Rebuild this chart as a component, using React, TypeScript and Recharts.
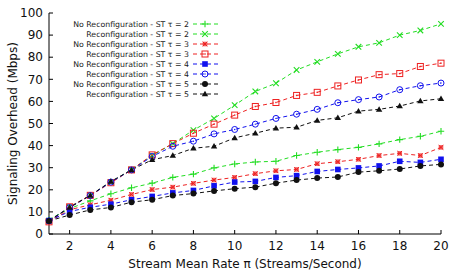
import { LineChart, Line, XAxis, YAxis, Legend } from 'recharts';

// stream mean rate (streams/second)
const rates = [1, 2, 3, 4, 5, 6, 7, 8, 9, 10, 11, 12, 13, 14, 15, 16, 17, 18, 19, 20];

// signaling overhead (Mbps)
const noReconfT2 = [6.5, 11.5, 15, 18.2, 20.9, 23, 25.6, 27.1, 29.9, 31.7, 32.6, 32.9, 35.5, 37, 38.2, 39.2, 40.8, 42.7, 44.2, 46.5];
const reconfT2 = [6, 12.2, 17.5, 23.5, 29.2, 35.5, 40.9, 47, 52.3, 58.3, 64.5, 68.2, 74.2, 77.9, 81.5, 84.7, 86.5, 90, 92.1, 95.1];
const noReconfT3 = [5.5, 11, 13.2, 15.3, 17.9, 20.1, 21.2, 22.9, 24.4, 25.6, 27.3, 28.6, 29.2, 31.8, 32.7, 33.8, 35.5, 36.5, 35.5, 39.2];
const reconfT3 = [5.5, 12.3, 17.5, 23.2, 29, 35.8, 40.9, 45.6, 49.7, 53.8, 57.7, 59.5, 62.7, 64.1, 67, 69.7, 72.1, 72.6, 75.8, 77.3];
const noReconfT4 = [6, 10.2, 12.1, 13.5, 15.5, 17, 18.6, 19.7, 21.8, 23.5, 23.8, 25.6, 26.4, 28.3, 29.2, 29.9, 30.8, 32.9, 32.4, 33.8];
const reconfT4 = [6, 12, 17.4, 23.5, 29, 35.1, 39.7, 42, 45.3, 47.3, 49.7, 52.3, 54.2, 56.4, 59.4, 60.8, 62, 65.3, 67.1, 68.3];
const noReconfT5 = [5.9, 8.6, 10.9, 12, 14.4, 15.5, 17.4, 18.3, 19.5, 20.5, 21.2, 23, 24.4, 25.3, 25.8, 28, 28.6, 29.4, 30.8, 31.5];
const reconfT5 = [6, 12, 17.5, 23.8, 29, 33.6, 35.5, 38.8, 39.7, 43.5, 45.6, 47.9, 48.3, 51.4, 52.6, 55.6, 56.4, 57.9, 60.2, 61.2];

const xTicks = [2, 4, 6, 8, 10, 12, 14, 16, 18, 20];
const yTicks = [0, 10, 20, 30, 40, 50, 60, 70, 80, 90, 100];

const GREEN = '#22dd22';
const RED = '#ee2222';
const BLUE = '#1111ee';
const BLACK = '#111111';

type Shape = 'plus' | 'cross' | 'star' | 'openSquare' | 'square' | 'openCircle' | 'circle' | 'triangle';

const series: { key: string; name: string; color: string; shape: Shape; values: number[] }[] = [
	{ key: 'nr2', name: 'No Reconfiguration - ST τ = 2', color: GREEN, shape: 'plus', values: noReconfT2 },
	{ key: 'r2', name: 'Reconfiguration - ST τ = 2', color: GREEN, shape: 'cross', values: reconfT2 },
	{ key: 'nr3', name: 'No Reconfiguration - ST τ = 3', color: RED, shape: 'star', values: noReconfT3 },
	{ key: 'r3', name: 'Reconfiguration - ST τ = 3', color: RED, shape: 'openSquare', values: reconfT3 },
	{ key: 'nr4', name: 'No Reconfiguration - ST τ = 4', color: BLUE, shape: 'square', values: noReconfT4 },
	{ key: 'r4', name: 'Reconfiguration - ST τ = 4', color: BLUE, shape: 'openCircle', values: reconfT4 },
	{ key: 'nr5', name: 'No Reconfiguration - ST τ = 5', color: BLACK, shape: 'circle', values: noReconfT5 },
	{ key: 'r5', name: 'Reconfiguration - ST τ = 5', color: BLACK, shape: 'triangle', values: reconfT5 },
];

const data = rates.map((n, i) => {
	const row: Record<string, number> = { n };
	series.forEach((s) => { row[s.key] = s.values[i]; });
	return row;
});

function Marker({ shape, color, cx, cy }: { shape: Shape; color: string; cx?: number; cy?: number }) {
	if (cx == null || cy == null) return null;
	switch (shape) {
		case 'plus':
			return <path d={`M${cx - 3.2},${cy}H${cx + 3.2}M${cx},${cy - 3.2}V${cy + 3.2}`} stroke={color} strokeWidth={1.1} fill="none" />;
		case 'cross':
			return <path d={`M${cx - 2.8},${cy - 2.8}L${cx + 2.8},${cy + 2.8}M${cx - 2.8},${cy + 2.8}L${cx + 2.8},${cy - 2.8}`} stroke={color} strokeWidth={1.1} fill="none" />;
		case 'star':
			return (
				<g>
					<rect x={cx - 2.3} y={cy - 2.3} width={4.6} height={4.6} fill={color} opacity={0.7} />
					<path d={`M${cx - 2.3},${cy - 2.3}L${cx + 2.3},${cy + 2.3}M${cx - 2.3},${cy + 2.3}L${cx + 2.3},${cy - 2.3}`} stroke={color} strokeWidth={1} />
				</g>
			);
		case 'openSquare':
			return (
				<g>
					<rect x={cx - 3} y={cy - 3} width={6} height={6} fill="none" stroke={color} strokeWidth={1} />
					<rect x={cx - 0.7} y={cy - 0.7} width={1.4} height={1.4} fill={color} />
				</g>
			);
		case 'square':
			return <rect x={cx - 2.8} y={cy - 2.8} width={5.6} height={5.6} fill={color} />;
		case 'openCircle':
			return (
				<g>
					<circle cx={cx} cy={cy} r={3} fill="none" stroke={color} strokeWidth={1} />
					<circle cx={cx} cy={cy} r={0.7} fill={color} />
				</g>
			);
		case 'circle':
			return <circle cx={cx} cy={cy} r={3} fill={color} />;
		case 'triangle':
			return <path d={`M${cx},${cy - 3.2}L${cx + 3.2},${cy + 2.3}L${cx - 3.2},${cy + 2.3}Z`} fill={color} />;
	}
	return null;
}

const renderLegend = () => (
	<svg width={170} height={82} style={{ display: 'block' }}>
		{series.map((s, i) => {
			const y = 6 + i * 10;
			return (
				<g key={s.key}>
					<text x={129} y={y} textAnchor="end" dominantBaseline="central" fontSize={7.8} fill="#222">{s.name}</text>
					<line x1={133} x2={158} y1={y} y2={y} stroke={s.color} strokeDasharray="4 3" />
					<Marker shape={s.shape} color={s.color} cx={145} cy={y} />
				</g>
			);
		})}
	</svg>
);

export default function App() {
	return (
		<div style={{
			position: 'absolute',
			left: 0,
			top: 0,
			width: 457,
			height: 274,
			background: '#fff',
			fontFamily: 'DejaVu Sans'
		}}>
			<LineChart width={457} height={274} data={data} margin={{ top: 13, right: 16, bottom: 0, left: 0 }}>
				<XAxis
					dataKey="n"
					type="number"
					domain={[1, 20]}
					ticks={xTicks}
					height={40}
					tickSize={-4}
					tickMargin={11}
					axisLine={{ stroke: '#000' }}
					tickLine={{ stroke: '#000' }}
					tick={{ fill: '#111', fontSize: 12 }}
					label={{ value: 'Stream Mean Rate π (Streams/Second)', position: 'insideBottom', offset: 6, fill: '#111', fontSize: 12 }}
				/>
				<XAxis
					xAxisId="top"
					orientation="top"
					dataKey="n"
					type="number"
					domain={[1, 20]}
					ticks={xTicks}
					height={0}
					tickSize={-4}
					tick={false}
					axisLine={{ stroke: '#000' }}
					tickLine={{ stroke: '#000' }}
				/>
				<YAxis
					type="number"
					domain={[0, 100]}
					ticks={yTicks}
					width={49}
					tickSize={-4}
					tickMargin={10}
					axisLine={{ stroke: '#000' }}
					tickLine={{ stroke: '#000' }}
					tick={{ fill: '#111', fontSize: 12 }}
					label={{ value: 'Signaling Overhead (Mbps)', angle: -90, position: 'center', dx: -12, fill: '#111', fontSize: 12 }}
				/>
				<YAxis
					yAxisId="right"
					orientation="right"
					type="number"
					domain={[0, 100]}
					ticks={yTicks}
					width={0}
					tickSize={-4}
					tick={false}
					axisLine={{ stroke: '#777', strokeWidth: 2 }}
					tickLine={{ stroke: '#555' }}
				/>
				<Legend
					layout="vertical"
					align="center"
					verticalAlign="middle"
					content={renderLegend}
					wrapperStyle={{ top: 18, left: 60, width: 170, height: 82 }}
				/>
				{series.map((s) => (
					<Line
						key={s.key}
						dataKey={s.key}
						name={s.name}
						stroke={s.color}
						strokeWidth={1}
						strokeDasharray="4 3"
						isAnimationActive={false}
						activeDot={false}
						dot={(p: any) => <Marker key={`${s.key}-${p.index}`} shape={s.shape} color={s.color} cx={p.cx} cy={p.cy} />}
					/>
				))}
			</LineChart>
		</div>
	);
}
